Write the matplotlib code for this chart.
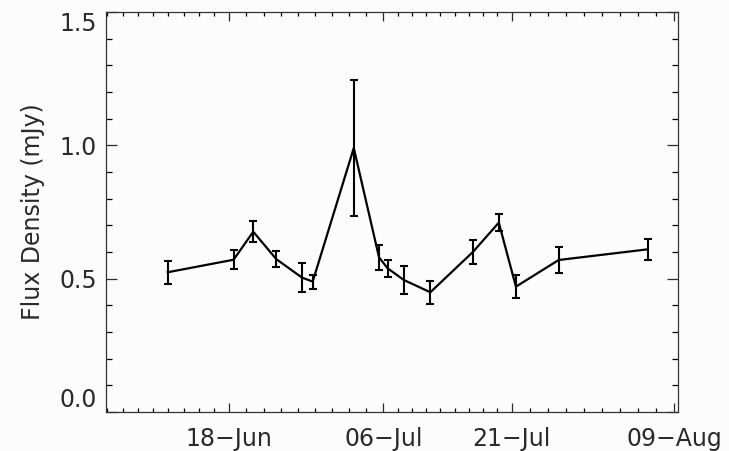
import matplotlib
matplotlib.use("Agg")
import matplotlib.pyplot as plt
import numpy as np

# Observation epochs as day of year, with flux densities and 1-sigma errors
obs_doy = [161.8, 169.5, 171.8, 174.5, 177.5, 178.75, 183.55, 186.5, 187.5,
           189.4, 192.5, 197.5, 200.5, 202.5, 207.5, 217.9]
flux_mjy = [0.524, 0.571, 0.676, 0.573, 0.504, 0.489, 0.99, 0.58, 0.539,
            0.495, 0.449, 0.601, 0.71, 0.47, 0.57, 0.61]
flux_err = [0.044, 0.036, 0.039, 0.031, 0.054, 0.026, 0.255, 0.047, 0.032,
            0.052, 0.044, 0.045, 0.033, 0.043, 0.049, 0.039]

date_ticks = [169, 187, 202, 221]
date_labels = ["18\u2212Jun", "06\u2212Jul", "21\u2212Jul", "09\u2212Aug"]
flux_ticks = [0.0, 0.5, 1.0, 1.5]
flux_labels = ["0.0", "0.5", "1.0", "1.5"]

ink = "#2a2a2a"
plt.rcParams["font.family"] = ["DejaVu Sans"]

fig = plt.figure(figsize=(7.29, 4.51), dpi=100, facecolor="#fcfcfc")
ax = fig.add_axes([0.1454, 0.0865, 0.7846, 0.8869], facecolor="#fcfcfc")

ax.errorbar(obs_doy, flux_mjy, yerr=flux_err, color="black", lw=1.6,
            elinewidth=1.5, capsize=2.9, capthick=1.5)

ax.set_xlim(154.59, 221.44)
ax.set_ylim(0.0, 1.5)

# major ticks at labelled dates; each interval split into nine minor steps
ax.set_xticks(date_ticks)
ax.set_xticklabels(date_labels)
minor_x = []
first_step = 1.78
minor_x += [date_ticks[0] - k * first_step for k in range(1, 9)]
for a, b in zip(date_ticks[:-1], date_ticks[1:]):
    minor_x += list(np.linspace(a, b, 10)[1:-1])
ax.set_xticks(minor_x, minor=True)

ax.set_yticks(flux_ticks)
ax.set_yticklabels(flux_labels)
ax.set_yticks(np.arange(0.1, 1.5, 0.1), minor=True)

ax.tick_params(axis="x", which="major", direction="in", length=6.3, width=0.9,
               top=True, bottom=True, pad=11, labelsize=17, colors=ink)
ax.tick_params(axis="x", which="minor", direction="in", length=3.0, width=0.9,
               top=True, bottom=True)
ax.tick_params(axis="y", which="major", direction="in", length=8.0, width=0.9,
               left=True, right=True, pad=6.5, labelsize=17, colors=ink)
ax.tick_params(axis="y", which="minor", direction="in", length=4.2, width=0.9,
               left=True, right=True)

# end labels sit inside the axis range
ylabels = ax.get_yticklabels()
ylabels[0].set_verticalalignment("bottom")
ylabels[-1].set_verticalalignment("top")

for s in ax.spines.values():
    s.set_linewidth(0.9)
    s.set_color("#333333")

ax.set_ylabel("Flux Density (mJy)", fontsize=17, color=ink, labelpad=10)

fig.savefig("out.png", dpi=100, facecolor=fig.get_facecolor())
